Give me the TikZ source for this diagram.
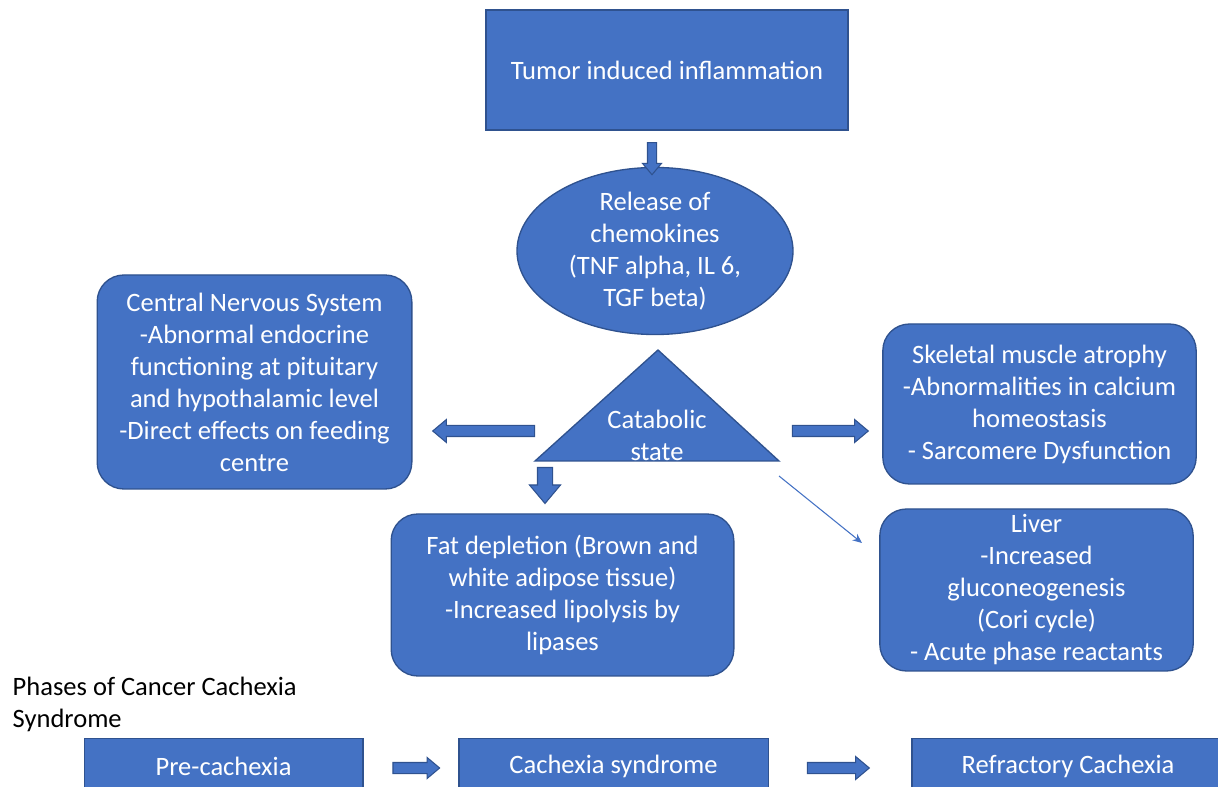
\documentclass[tikz,border=0pt]{standalone}
\usepackage{fontspec}
\setmainfont{Carlito}
\usetikzlibrary{shapes.geometric,shapes.arrows,calc,arrows.meta}
\definecolor{boxfill}{HTML}{4472C4}
\definecolor{boxline}{HTML}{2F528F}
\tikzset{
  box/.style={draw=boxline, line width=1pt, fill=boxfill, text=white, align=center,
    font=\fontsize{19.9}{24}\selectfont, inner sep=0pt},
  roundbox/.style={box, rounded corners=20pt},
  blockarrow/.style={single arrow, draw=boxline, line width=0.8pt, fill=boxfill,
    inner xsep=0pt, single arrow head indent=0pt, single arrow tip angle=80},
}

\begin{document}
\begin{tikzpicture}[x=0.75pt,y=-0.75pt]
  \useasboundingbox (0,0) rectangle (1218,787);

  % top part
  \node[box, minimum width=271.5pt, minimum height=90pt] (tumor) at (667,70) {Tumor induced inflammation};
  \node[box, ellipse, minimum width=207pt, minimum height=120pt] (chem) at (655,251)
    {Release of\\chemokines\\(TNF alpha, IL 6,\\TGF beta)};
  \node[blockarrow, minimum height=24pt, inner ysep=3pt, single arrow head extend=3.75pt, rotate=-90] (a1) at (652,156) {};

  % catabolic state
  \coordinate (top) at (658,350);
  \coordinate (right) at (779,461);
  \coordinate (left) at (535,461);
  \draw[draw=boxline, line width=1pt, fill=boxfill] (top) -- (right) -- (left) -- cycle;
  \node[text=white, align=center, font=\fontsize{19.9}{24}\selectfont] (cat) at (657,435) {Catabolic\\state};

  % effects
  \node[roundbox, minimum width=236pt, minimum height=160.5pt] (cns) at (254.5,382)
    {Central Nervous System\\-Abnormal endocrine\\functioning at pituitary\\and hypothalamic level\\-Direct effects on feeding\\centre};
  \node[roundbox, minimum width=235pt, minimum height=120pt] (muscle) at (1039.5,404)
    {Skeletal muscle atrophy\\-Abnormalities in calcium\\homeostasis\\- Sarcomere Dysfunction};
  \node[roundbox, minimum width=257pt, minimum height=121.5pt] (fat) at (562.5,595)
    {Fat depletion (Brown and\\white adipose tissue)\\-Increased lipolysis by\\lipases};
  \node[roundbox, minimum width=235pt, minimum height=121.5pt] (liver) at (1036.5,590)
    {Liver\\-Increased\\gluconeogenesis\\(Cori cycle)\\- Acute phase reactants};

  \node[blockarrow, minimum height=76.5pt, inner ysep=3.75pt, single arrow head extend=4.5pt, rotate=180] (a2) at (487,431) {};
  \node[blockarrow, minimum height=57pt, inner ysep=3.75pt, single arrow head extend=4.5pt] (a3) at (827,431) {};
  \node[blockarrow, minimum height=27pt, inner ysep=5.25pt, single arrow head extend=6pt, rotate=-90] (a4) at (545,481) {};
  \coordinate (catcorner) at ($(right)+(0,15)$);
  \coordinate (liverend) at (862,543);
  \draw[boxfill, line width=0.8pt, -{Stealth[length=7pt,width=6pt]}] (catcorner) -- (liverend);

  % phases
  \node[anchor=west, align=left, font=\fontsize{19.9}{24}\selectfont] (phases) at (8,704)
    {Phases of Cancer Cachexia\\Syndrome};
  \node[box, anchor=north, minimum width=209pt, minimum height=45pt] (pre) at (223.5,738) {};
  \node[text=white, font=\fontsize{19.9}{24}\selectfont] at (223.5,766) {Pre-cachexia};
  \node[box, anchor=north, minimum width=232pt, minimum height=45pt] (syn) at (613.5,738) {};
  \node[text=white, font=\fontsize{19.9}{24}\selectfont] at (613.5,766) {Cachexia syndrome};
  \node[box, anchor=north, minimum width=234pt, minimum height=45pt] (refr) at (1068,738) {};
  \node[text=white, font=\fontsize{19.9}{24}\selectfont] at (1068,766) {Refractory Cachexia};
  \node[blockarrow, minimum height=35pt, inner ysep=3.75pt, single arrow head extend=3.75pt] (a5) at (413,768) {};
  \node[blockarrow, minimum height=46.5pt, inner ysep=3.75pt, single arrow head extend=4.5pt] (a6) at (835,768) {};
\end{tikzpicture}
\end{document}
